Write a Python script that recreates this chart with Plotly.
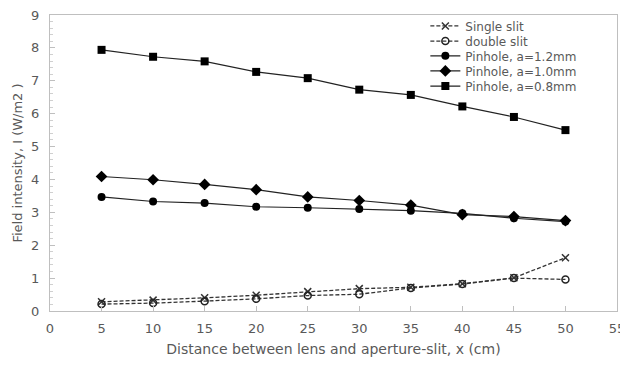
import plotly.graph_objects as go

x = [5, 10, 15, 20, 25, 30, 35, 40, 45, 50]
single_slit = [0.28, 0.33, 0.40, 0.48, 0.59, 0.68, 0.72, 0.83, 1.01, 1.62]
double_slit = [0.21, 0.24, 0.30, 0.37, 0.47, 0.51, 0.70, 0.82, 1.00, 0.96]
pinhole_12 = [3.47, 3.33, 3.28, 3.17, 3.14, 3.10, 3.05, 2.97, 2.82, 2.72]
pinhole_10 = [4.09, 3.99, 3.85, 3.69, 3.47, 3.36, 3.22, 2.93, 2.87, 2.75]
pinhole_08 = [7.94, 7.73, 7.59, 7.27, 7.08, 6.73, 6.57, 6.22, 5.90, 5.50]
series_names = ["Single slit", "double slit", "Pinhole, a=1.2mm", "Pinhole, a=1.0mm", "Pinhole, a=0.8mm"]

FONT = "DejaVu Sans"
GREY = "#595959"
DASH = "4px,2px"

fig = go.Figure()
fig.add_trace(go.Scatter(x=x, y=single_slit, name=series_names[0], mode="lines+markers", legend="legend",
                         line=dict(color="#333333", width=1.3, dash=DASH),
                         marker=dict(symbol="x-thin-open", size=7, line=dict(color="#222222", width=1.5))))
fig.add_trace(go.Scatter(x=x, y=double_slit, name=series_names[1], mode="lines+markers", legend="legend2",
                         line=dict(color="#333333", width=1.3, dash=DASH),
                         marker=dict(symbol="circle-open", size=7, color="#222222", line=dict(color="#222222", width=1.5))))
fig.add_trace(go.Scatter(x=x, y=pinhole_12, name=series_names[2], mode="lines+markers", legend="legend3",
                         line=dict(color="#222222", width=1.2),
                         marker=dict(symbol="circle", size=8, color="black")))
fig.add_trace(go.Scatter(x=x, y=pinhole_10, name=series_names[3], mode="lines+markers", legend="legend4",
                         line=dict(color="#222222", width=1.2),
                         marker=dict(symbol="diamond", size=9, color="black")))
fig.add_trace(go.Scatter(x=x, y=pinhole_08, name=series_names[4], mode="lines+markers", legend="legend5",
                         line=dict(color="#222222", width=1.2),
                         marker=dict(symbol="square", size=8, color="black")))

leg_y = [0.963, 0.912, 0.862, 0.811, 0.760]
def leg(yv):
    return dict(x=0.662, y=yv, xanchor="left", yanchor="middle",
                bgcolor="rgba(0,0,0,0)", font=dict(size=12, color=GREY, family=FONT),
                itemwidth=30)

fig.update_layout(
    width=620, height=349,
    margin=dict(l=42, r=11, t=7, b=46, autoexpand=False),
    paper_bgcolor="white", plot_bgcolor="white",
    font=dict(family=FONT, color=GREY, size=13),
    showlegend=True,
    legend=leg(leg_y[0]), legend2=leg(leg_y[1]), legend3=leg(leg_y[2]),
    legend4=leg(leg_y[3]), legend5=leg(leg_y[4]),
    xaxis=dict(range=[0, 55], tickvals=[0, 5, 10, 15, 20, 25, 30, 35, 40, 45, 50, 55],
               showgrid=False, zeroline=False, showline=True, linecolor="#bfbfbf",
               mirror=True, ticks="inside", ticklen=5, tickcolor="#bfbfbf",
               automargin=False, ticklabeloverflow="allow", ticklabelstandoff=5,
               title=dict(text="Distance between lens and aperture-slit, x (cm)",
                          font=dict(size=14, color=GREY), standoff=12),
               tickfont=dict(size=13, color=GREY)),
    yaxis=dict(range=[0, 9], tickvals=list(range(10)),
               showgrid=False, zeroline=False, showline=True, linecolor="#bfbfbf",
               mirror=True, ticks="inside", ticklen=5, tickcolor="#bfbfbf",
               automargin=False, ticklabeloverflow="allow", ticklabelstandoff=7,
               minor=dict(ticks="inside", ticklen=3, tickcolor="#d0d0d0", dtick=0.2),
               title=dict(text="Field intensity, I (W/m2 )",
                          font=dict(size=13, color=GREY), standoff=5),
               tickfont=dict(size=13, color=GREY)),
)

fig.write_html("out.html")
